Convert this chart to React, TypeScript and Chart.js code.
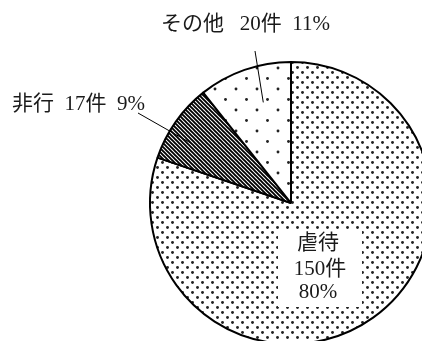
import React, { useEffect, useRef } from "react";
import { Chart, registerables } from "chart.js";

Chart.register(...registerables);

const categories = ["虐待", "非行", "その他"];
const counts = [150, 17, 20];
const countLabels = ["150件", "17件", "20件"];
const percentLabels = ["80%", "9%", "11%"];

const FONT = "21px 'Liberation Serif', 'Noto Sans CJK JP', serif";

function makeTile(w: number, h: number, draw: (c: CanvasRenderingContext2D) => void) {
  const cv = document.createElement("canvas");
  cv.width = w;
  cv.height = h;
  const c = cv.getContext("2d")!;
  c.fillStyle = "#fff";
  c.fillRect(0, 0, w, h);
  draw(c);
  const ctx = document.createElement("canvas").getContext("2d")!;
  return ctx.createPattern(cv, "repeat")!;
}

function dot(c: CanvasRenderingContext2D, x: number, y: number, r: number) {
  c.fillStyle = "#222";
  c.beginPath();
  c.arc(x, y, r, 0, Math.PI * 2);
  c.fill();
}

export default function App() {
  const ref = useRef<HTMLCanvasElement | null>(null);

  useEffect(() => {
    const canvas = ref.current!;
    const dense = makeTile(10, 10, (c) => {
      dot(c, 2.5, 2.5, 1.45);
      dot(c, 7.5, 7.5, 1.45);
    });
    const hatch = makeTile(4, 4, (c) => {
      c.strokeStyle = "#000";
      c.lineWidth = 1.9;
      c.beginPath();
      c.moveTo(-1, -1);
      c.lineTo(5, 5);
      c.moveTo(-1, 3);
      c.lineTo(1, 5);
      c.moveTo(3, -1);
      c.lineTo(5, 1);
      c.stroke();
    });
    const sparse = makeTile(21, 21, (c) => {
      dot(c, 5, 5, 1.45);
      dot(c, 15.5, 15.5, 1.45);
    });

    const labelPlugin = {
      id: "pieLabels",
      afterDatasetsDraw(chart: any) {
        const ctx = chart.ctx as CanvasRenderingContext2D;
        const arcs = chart.getDatasetMeta(0).data;
        const pointIn = (i: number, t: number, rf: number) => {
          const a = arcs[i];
          const ang = a.startAngle + (a.endAngle - a.startAngle) * t;
          const r = a.outerRadius * rf;
          return [a.x + Math.cos(ang) * r, a.y + Math.sin(ang) * r];
        };
        ctx.save();
        ctx.font = FONT;
        ctx.textBaseline = "middle";

        // 虐待 label in white box
        const bx = 320, by = 268;
        ctx.fillStyle = "#fff";
        ctx.fillRect(bx - 42, by - 38, 84, 77);
        ctx.fillStyle = "#1a1a1a";
        ctx.textAlign = "center";
        ctx.fillText(categories[0], bx - 2, by - 25);
        ctx.fillText(countLabels[0], bx, by + 1);
        ctx.fillText(percentLabels[0], bx - 2, by + 24);

        // 非行 label
        ctx.textAlign = "left";
        ctx.fillText(`${categories[1]}  ${countLabels[1]}  ${percentLabels[1]}`, 12, 104);
        // その他 label
        ctx.fillText(`${categories[2]}   ${countLabels[2]}  ${percentLabels[2]}`, 161, 24);

        // leader lines
        ctx.strokeStyle = "#000";
        ctx.lineWidth = 1;
        const p1 = pointIn(1, 0.37, 0.83);
        ctx.beginPath();
        ctx.moveTo(138, 113);
        ctx.lineTo(p1[0], p1[1]);
        ctx.stroke();
        const p2 = pointIn(2, 0.6, 0.74);
        ctx.beginPath();
        ctx.moveTo(255, 51);
        ctx.lineTo(p2[0], p2[1]);
        ctx.stroke();
        ctx.restore();
      },
    };

    const chart = new Chart(canvas, {
      type: "pie",
      data: {
        labels: categories,
        datasets: [
          {
            data: counts,
            backgroundColor: [dense, hatch, sparse] as any,
            borderColor: "#000",
            borderWidth: 2,
            hoverOffset: 0,
          },
        ],
      },
      options: {
        animation: false,
        responsive: false,
        events: [],
        layout: { padding: { left: 149, top: 61, right: 17, bottom: 15 } },
        plugins: { legend: { display: false }, tooltip: { enabled: false } },
      },
      plugins: [labelPlugin],
    });
    return () => chart.destroy();
  }, []);

  return (
    <div
      style={{
        position: "fixed",
        left: 0,
        top: 0,
        width: 422,
        height: 341,
        overflow: "hidden",
        background: "#fff",
      }}
    >
      <canvas ref={ref} width={450} height={360} style={{ display: "block" }} />
    </div>
  );
}
